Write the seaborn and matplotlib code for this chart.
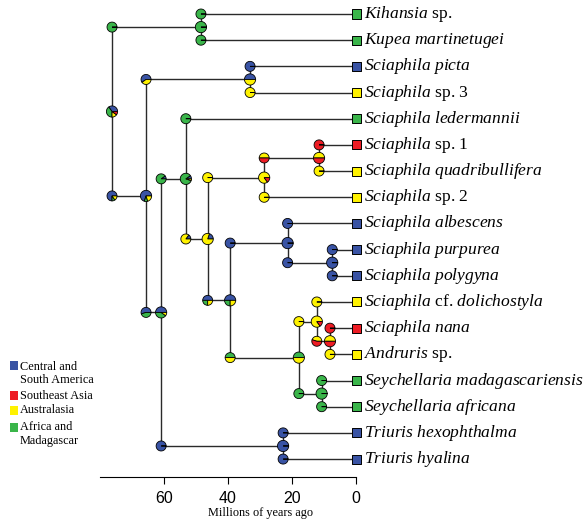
import numpy as np
import pandas as pd
import matplotlib
matplotlib.use("Agg")
import matplotlib.pyplot as plt
import matplotlib.transforms as mtransforms
from matplotlib.patches import Wedge, Rectangle
import seaborn as sns

# ---------------- data ----------------
tip_names = ["Kihansia sp.", "Kupea martinetugei", "Sciaphila picta", "Sciaphila sp. 3",
             "Sciaphila ledermannii", "Sciaphila sp. 1", "Sciaphila quadribullifera",
             "Sciaphila sp. 2", "Sciaphila albescens", "Sciaphila purpurea",
             "Sciaphila polygyna", "Sciaphila cf. dolichostyla", "Sciaphila nana",
             "Andruris sp.", "Seychellaria madagascariensis", "Seychellaria africana",
             "Triuris hexophthalma", "Triuris hyalina"]
tip_region = ["AFR", "AFR", "CSA", "AUS", "AFR", "SEA", "AUS", "AUS", "CSA", "CSA",
              "CSA", "AUS", "SEA", "AUS", "AFR", "AFR", "CSA", "CSA"]

regions = ["CSA", "SEA", "AUS", "AFR"]
region_labels = ["Central and\nSouth America", "Southeast Asia", "Australasia",
                 "Africa and\nMadagascar"]
region_colors = ["#3953A4", "#ED1C24", "#FFF200", "#3AB54A"]

node_names = ["root", "A", "B", "C", "D", "E", "F", "G", "H", "I", "J", "K", "L", "M", "N", "O", "P"]
node_ages = [76.1, 48.4, 65.5, 33.1, 60.8, 53.1, 22.8, 46.3, 28.7, 39.3, 11.6, 21.4, 17.9, 7.5, 12.3, 10.8, 8.2]
node_child1 = ["A", "Kihansia sp.", "C", "Sciaphila picta", "E", "Sciaphila ledermannii",
               "Triuris hexophthalma", "H", "J", "K", "Sciaphila sp. 1", "Sciaphila albescens",
               "N", "Sciaphila purpurea", "Sciaphila cf. dolichostyla",
               "Seychellaria madagascariensis", "Sciaphila nana"]
node_child2 = ["B", "Kupea martinetugei", "D", "Sciaphila sp. 3", "F", "G",
               "Triuris hyalina", "I", "Sciaphila sp. 2", "L", "Sciaphila quadribullifera",
               "M", "O", "Sciaphila polygyna", "P", "Seychellaria africana", "Andruris sp."]

# node state probabilities (CSA, SEA, AUS, AFR)
node_csa = [0.35, 0, 0.70, 0.5, 0.50, 0.10, 1, 0.20, 0, 0.50, 0, 1, 0, 1, 0, 0, 0]
node_sea = [0.10, 0, 0, 0, 0, 0, 0, 0, 0.15, 0, 0.5, 0, 0, 0, 0.15, 0, 0.5]
node_aus = [0.15, 0, 0.20, 0.5, 0.10, 0.05, 0, 0.80, 0.85, 0.25, 0.5, 0, 0.5, 0, 0.85, 0, 0.5]
node_afr = [0.40, 1, 0.10, 0, 0.40, 0.85, 0, 0, 0, 0.25, 0, 0, 0.5, 0, 0, 1, 0]

# branch-start state probabilities for nodes A..P (CSA, SEA, AUS, AFR)
stem_csa = [0, 0.75, 0.6, 0.55, 0.10, 1, 0.15, 0, 0.50, 0, 1, 0, 1, 0, 0, 0]
stem_sea = [0, 0, 0, 0, 0, 0, 0, 0, 0, 0.5, 0, 0, 0, 0, 0, 0.55]
stem_aus = [0, 0.15, 0.4, 0, 0, 0, 0.85, 1, 0.25, 0.5, 0, 0.5, 0, 1, 0, 0.45]
stem_afr = [1, 0.10, 0, 0.45, 0.90, 0, 0, 0, 0.25, 0, 0, 0.5, 0, 0, 1, 0]

xticks = [60, 40, 20, 0]
xlabel = "Millions of years ago"

# ---------------- layout of the tree ----------------
age = {n: 0.0 for n in tip_names}
ypos = {n: float(i) for i, n in enumerate(tip_names)}
children = {}
for n, a, c1, c2 in zip(node_names, node_ages, node_child1, node_child2):
    age[n] = a
    children[n] = (c1, c2)
parent = {}
for n, (c1, c2) in children.items():
    parent[c1] = n
    parent[c2] = n


def get_y(n):
    if n in ypos:
        return ypos[n]
    c1, c2 = children[n]
    ypos[n] = (get_y(c1) + get_y(c2)) / 2.0
    return ypos[n]


for n in node_names:
    get_y(n)

# ---------------- figure ----------------
sns.set_theme(style="ticks")
plt.rcParams["font.family"] = ["Liberation Sans", "DejaVu Sans"]
plt.rcParams["mathtext.fontset"] = "custom"
plt.rcParams["mathtext.it"] = "Liberation Serif:italic"
plt.rcParams["mathtext.rm"] = "Liberation Serif"

W, H = 584, 520
fig = plt.figure(figsize=(W / 100, H / 100), dpi=100)
ax_left, ax_right, ax_top, ax_bottom = 100, 356.3, 0, 476.7
ax = fig.add_axes([ax_left / W, 1 - ax_bottom / H, (ax_right - ax_left) / W, (ax_bottom - ax_top) / H])
px_per_tip = 26.18
first_tip_px = 14
ax.set_xlim((ax_right - ax_left) / 3.21, 0)
ax.set_ylim((ax_bottom - first_tip_px) / px_per_tip, -first_tip_px / px_per_tip)
ax.set_autoscale_on(False)

line_kw = dict(color="#2a2a2a", lw=1.0, zorder=1, solid_capstyle="butt")
for n in node_names:
    c1, c2 = children[n]
    ax.plot([age[n], age[n]], [ypos[c1], ypos[c2]], **line_kw)
    for c in (c1, c2):
        ax.plot([age[n], age[c]], [ypos[c], ypos[c]], **line_kw)

draw_order = [0, 3, 2, 1]


def draw_pie(x, y, fracs, r_px, z=3):
    trans = fig.dpi_scale_trans + mtransforms.ScaledTranslation(x, y, ax.transData)
    r = r_px / fig.dpi
    tot = float(sum(fracs))
    start = 0.0
    for k in draw_order:
        f = fracs[k] / tot
        if f <= 0:
            continue
        end = min(start + 360.0 * f, 359.99)
        ax.add_patch(Wedge((0, 0), r, start, end, facecolor=region_colors[k],
                           edgecolor="black", lw=0.6, transform=trans, zorder=z,
                           clip_on=False))
        start = end


# node pies
for i, n in enumerate(node_names):
    draw_pie(age[n], ypos[n], [node_csa[i], node_sea[i], node_aus[i], node_afr[i]], 5.6, z=4)
# branch-start pies for internal nodes
for i, n in enumerate(node_names[1:]):
    draw_pie(age[parent[n]], ypos[n], [stem_csa[i], stem_sea[i], stem_aus[i], stem_afr[i]], 5.0)
# branch-start pies for tips
for n, reg in zip(tip_names, tip_region):
    fr = [1.0 if r == reg else 0.0 for r in regions]
    draw_pie(age[parent[n]], ypos[n], fr, 5.0)

# tip squares
tips_df = pd.DataFrame({"age": [0.0] * len(tip_names), "y": [ypos[n] for n in tip_names],
                        "region": tip_region})
sns.scatterplot(data=tips_df, x="age", y="y", hue="region",
                palette=dict(zip(regions, region_colors)), marker="s", s=42,
                edgecolor="black", linewidth=0.7, legend=False, zorder=5, clip_on=False, ax=ax)

# tip labels
upright = {"sp.", "cf.", "1", "2", "3"}


def fmt(name):
    out, buf = [], []
    for p in name.split(" "):
        if p in upright:
            if buf:
                out.append(r"$\mathit{" + r"\ ".join(buf) + "}$")
                buf = []
            out.append(p)
        else:
            buf.append(p)
    if buf:
        out.append(r"$\mathit{" + r"\ ".join(buf) + "}$")
    return " ".join(out)


for n in tip_names:
    ax.annotate(fmt(n), xy=(0, ypos[n]), xytext=(5.3, 0), textcoords="offset points",
                ha="left", va="center", fontsize=12.6, family="Liberation Serif",
                color="black", annotation_clip=False)

# axes styling
sns.despine(ax=ax, left=True, top=True, right=True)
ax.set_yticks([])
ax.set_xticks(xticks)
ax.set_xticklabels([str(t) for t in xticks])
ax.tick_params(axis="x", length=5, width=0.8, pad=5.5, labelsize=11.5, colors="black")
ax.spines["bottom"].set_linewidth(0.8)
ax.spines["bottom"].set_color("black")
ax.set_ylabel("")
ax.set_xlabel(xlabel, family="Liberation Serif", fontsize=8.8, color="black")
ax.xaxis.set_label_coords((261 - ax_left) / (ax_right - ax_left), -0.064)
ax.set_facecolor("none")
fig.patch.set_facecolor("white")

# legend
leg_y = [373.2, 395.7, 410.2, 434.0]
sq_y = [365.8, 395.7, 410.2, 427.0]
for lab, col, ty, sy in zip(region_labels, region_colors, leg_y, sq_y):
    fig.patches.append(Rectangle((10 / W, 1 - (sy + 4.5) / H), 7.5 / W, 9 / H,
                                 facecolor=col, edgecolor="none",
                                 transform=fig.transFigure, figure=fig))
    fig.text(20 / W, 1 - ty / H, lab, ha="left", va="center", fontsize=8.8,
             family="Liberation Serif", color="black", linespacing=1.15)

fig.savefig("out.png", dpi=100)
